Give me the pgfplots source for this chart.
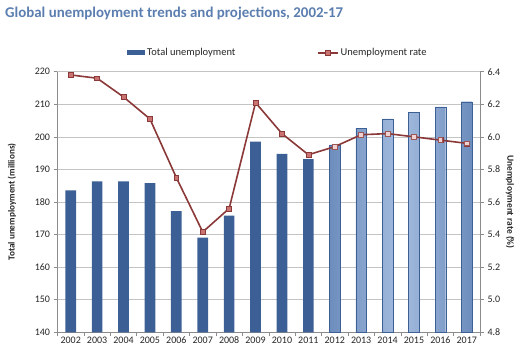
\documentclass[border=0pt]{standalone}
\usepackage{fontspec}
\setmainfont{Carlito}
\usepackage{pgfplots}
\pgfplotsset{compat=1.18}
\definecolor{barblue}{HTML}{3C6096}
\definecolor{barmid}{HTML}{6284B6}
\definecolor{barlight}{HTML}{A3BBDE}
\definecolor{linered}{HTML}{8B3838}
\definecolor{markfill}{HTML}{C97373}
\definecolor{markfill2}{HTML}{F0D2D2}
\definecolor{titleblue}{HTML}{5B7EB0}
\definecolor{gridgray}{HTML}{C4C4C4}
\definecolor{axisgray}{HTML}{8C8C8C}
\definecolor{ticktext}{HTML}{262626}
\pgfdeclarehorizontalshading{barshade}{100bp}{color(0bp)=(barblue); color(20bp)=(barmid); color(50bp)=(barlight); color(80bp)=(barmid); color(100bp)=(barblue)}
\pgfplotsset{
  common/.style={
    at={(57.5pt,26.7pt)}, anchor=south west, scale only axis,
    width=422.5pt, height=260.6pt,
    xmin=-0.5, xmax=15.5,
    /pgf/number format/assume math mode=true,
    tick label style={font=\fontsize{10}{12}\selectfont, text=ticktext},
    tick align=outside, major tick length=4pt,
    tick style={axisgray, line width=0.5pt},
    axis line style={axisgray, line width=0.6pt},
    legend style={draw=none, fill=none, inner sep=0pt, font=\fontsize{10.5}{12}\selectfont, text=ticktext},
  }
}
\begin{document}
\begin{tikzpicture}
\node[anchor=west, font=\bfseries\fontsize{14.9}{17}\selectfont, text=titleblue, inner sep=0] at (5pt,345pt) {Global unemployment trends and projections, 2002-17};
\begin{axis}[common,
  ymin=140, ymax=220, ytick={140,150,160,170,180,190,200,210,220},
  axis x line*=bottom, axis y line*=left,
  xtick={-0.5,0.5,1.5,2.5,3.5,4.5,5.5,6.5,7.5,8.5,9.5,10.5,11.5,12.5,13.5,14.5,15.5},
  xticklabels={},
  extra x ticks={0,1,2,3,4,5,6,7,8,9,10,11,12,13,14,15},
  extra x tick labels={2002,2003,2004,2005,2006,2007,2008,2009,2010,2011,2012,2013,2014,2015,2016,2017},
  extra x tick style={major tick length=0pt, tick label style={yshift=-1pt}},
  ymajorgrids, grid style={gridgray, line width=0.6pt},
  ylabel={Total unemployment (millions)},
  every axis y label/.style={at={(axis description cs:-0.1077,0.5)}, rotate=90, anchor=center, font=\bfseries\fontsize{9.2}{11}\selectfont, text=ticktext},
  legend style={at={(axis description cs:0.1645,1.072)}, anchor=west},
  legend image code/.code={\fill[barblue] (0pt,-2.5pt) rectangle (18pt,2.5pt);},
]
\addplot[ybar, bar width=10.7pt, bar shift=0pt, fill=barblue, draw=none] coordinates {
(0,183.6) (1,186.3) (2,186.3) (3,185.8) (4,177.2) (5,169.1) (6,175.8) (7,198.5) (8,194.8) (9,193.2)
};
\addlegendentry{Total unemployment}
\addplot[ybar, bar width=10.7pt, bar shift=0pt, draw=barblue, line width=0.3pt, shading=barshade, forget plot] coordinates {
(10,197.5) (11,202.6) (12,205.5) (13,207.5) (14,209.2) (15,210.8)
};
\end{axis}
\begin{axis}[common,
  ymin=4.8, ymax=6.4, ytick={4.8,5.0,5.2,5.4,5.6,5.8,6.0,6.2,6.4},
  yticklabel style={/pgf/number format/.cd, fixed, fixed zerofill, precision=1},
  axis x line=none, axis y line*=right,
  ylabel={Unemployment rate (\%)},
  every axis y label/.style={at={(axis description cs:1.071,0.5)}, rotate=-90, anchor=center, font=\bfseries\fontsize{9.4}{11}\selectfont, text=ticktext},
  legend style={at={(axis description cs:0.614,1.072)}, anchor=west},
  legend image code/.code={\draw[linered, line width=1.5pt] (0pt,0pt) -- (20pt,0pt); \draw[linered, fill=markfill, line width=0.5pt] (7.6pt,-2.4pt) rectangle (12.4pt,2.4pt);},
]
\addplot[linered, line width=1.6pt, mark=square*, mark size=2.4pt, mark options={fill=markfill, draw=linered, line width=0.5pt}] coordinates {
(0,6.38) (1,6.36) (2,6.245) (3,6.11) (4,5.75) (5,5.416) (6,5.56) (7,6.21) (8,6.02) (9,5.89)
(10,5.94) (11,6.013) (12,6.02) (13,6.0) (14,5.98) (15,5.96)
};
\addlegendentry{Unemployment rate}
\addplot[only marks, mark=square*, mark size=2.4pt, mark options={fill=markfill2, draw=linered!85, line width=0.6pt}, forget plot] coordinates {
(10,5.94) (11,6.013) (12,6.02) (13,6.0) (14,5.98) (15,5.96)
};
\end{axis}
\pgfresetboundingbox
\path[use as bounding box] (0pt,0pt) rectangle (519pt,359pt);
\end{tikzpicture}
\end{document}
